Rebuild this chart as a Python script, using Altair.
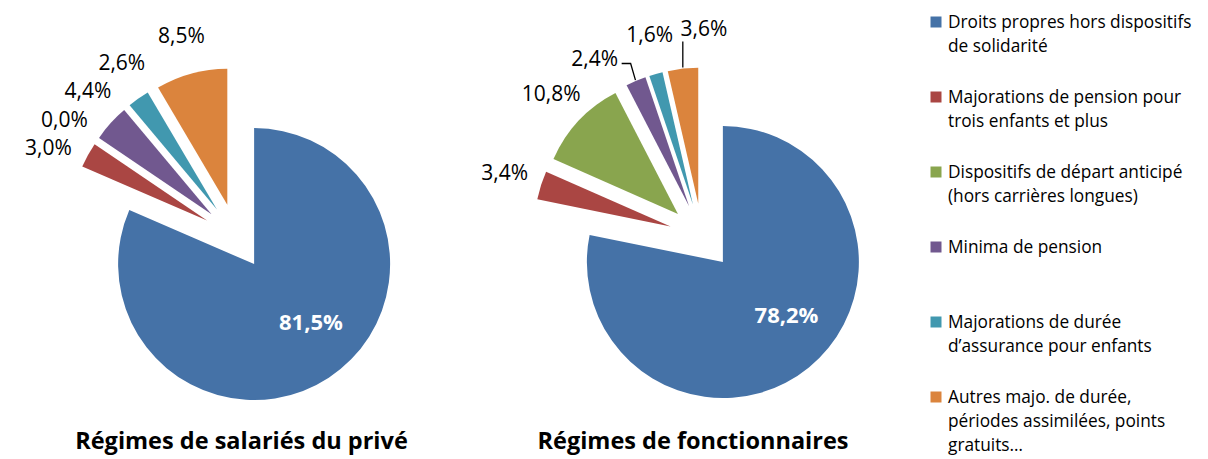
import math
import altair as alt
import pandas as pd

# ---------------- data ----------------
categories = [
    "Droits propres hors dispositifs\nde solidarité",
    "Majorations de pension pour\ntrois enfants et plus",
    "Dispositifs de départ anticipé\n(hors carrières longues)",
    "Minima de pension",
    "Majorations de durée\nd’assurance pour enfants",
    "Autres majo. de durée,\npériodes assimilées, points\ngratuits…",
]
prive = [81.5, 3.0, 0.0, 4.4, 2.6, 8.5]
fonctionnaires = [78.2, 3.4, 10.8, 2.4, 1.6, 3.6]
pie_titles = ["Régimes de salariés du privé", "Régimes de fonctionnaires"]

# ---------------- style / layout ----------------
colors = ["#4572A7", "#AA4643", "#89A54E", "#71588F", "#4198AF", "#DB843D"]
FONT = "Open Sans"
W, H = 1192, 451
centers = [(228, 228.5), (694, 228.5)]
title_x = [233.5, 685]
title_y = 441
R = 136
EXPLODE = 33
LABEL_R = 207
LAB_FS = 21
LEG_X = 928
LEG_Y0, LEG_Y1 = 14, 389


def fmt(v):
    return f"{v:.1f}".replace(".", ",") + "%"


def pdir(deg):
    a = math.radians(deg)
    return math.sin(a), -math.cos(a)


slices, inner, outer, leaders = [], [], [], []
for p, (vals, (cx0, cy0)) in enumerate(zip([prive, fonctionnaires], centers)):
    total = sum(vals)
    cum = 0.0
    items = []
    for i, v in enumerate(vals):
        c0, c1 = cum, cum + v
        cum = c1
        mid = (c0 + c1) / 2 / total * 360.0
        dx, dy = pdir(mid)
        vx, vy = cx0 + EXPLODE * dx, cy0 + EXPLODE * dy
        slices.append(dict(pie=p, cat=categories[i], c0=c0 / total * 100, c1=c1 / total * 100,
                           cx=vx, cy=vy))
        if i == 0:
            inner.append(dict(x=vx + 0.6 * R * dx + 12, y=vy + 0.6 * R * dy - 9, t=fmt(v)))
        else:
            items.append(dict(i=i, mid=mid, ang=mid, t=fmt(v), w=len(fmt(v)) * 12.5 + 2))

    def pos(it):
        dx, dy = pdir(it["ang"])
        return cx0 + LABEL_R * dx, cy0 + LABEL_R * dy

    def overlap(a, b):
        ax, ay = pos(a)
        bx, by = pos(b)
        return abs(ax - bx) < (a["w"] + b["w"]) / 2 + 2 and abs(ay - by) < 28

    items.sort(key=lambda it: it["mid"])
    for _ in range(3000):
        moved = False
        for a, b in zip(items, items[1:]):
            if overlap(a, b):
                a["ang"] -= 0.2
                b["ang"] += 0.2
                moved = True
        if not moved:
            break

    for it in items:
        lx, ly = pos(it)
        outer.append(dict(x=lx, y=ly, t=it["t"]))
        if abs(it["ang"] - it["mid"]) > 4:
            dx, dy = pdir(it["mid"])
            tx = cx0 + (EXPLODE + R + 1) * dx
            ty = cy0 + (EXPLODE + R + 1) * dy
            hw = it["w"] / 2
            lid = f"{p}-{it['i']}"
            if lx - hw < tx < lx + hw and ty > ly:
                pts = [(tx, ly + 12), (tx, ty)]
            else:
                side = 1 if tx > lx else -1
                sx = lx + side * (hw + 1)
                sy = ly + 4
                pts = [(sx, sy), (sx + side * 9, sy), (tx, ty)]
            for k, (px, py) in enumerate(pts):
                leaders.append(dict(id=lid, o=k, x=px, y=py))

slices_df = pd.DataFrame(slices)
inner_df = pd.DataFrame(inner)
outer_df = pd.DataFrame(outer)
leaders_df = pd.DataFrame(leaders)
titles_df = pd.DataFrame(dict(t=pie_titles, x=title_x, y=[title_y] * 2))
n = len(categories)
legend_df = pd.DataFrame(dict(
    cat=categories,
    y=[LEG_Y0 + k * (LEG_Y1 - LEG_Y0) / (n - 1) for k in range(n)],
))

X = lambda f: alt.X(f, scale=None, axis=None)
Y = lambda f: alt.Y(f, scale=None, axis=None)
color = alt.Color("cat:N", scale=alt.Scale(domain=categories, range=colors), legend=None)

arcs = alt.Chart(slices_df).mark_arc(outerRadius=R, stroke=None).encode(
    x=X("cx:Q"), y=Y("cy:Q"),
    theta=alt.Theta("c0:Q", scale=alt.Scale(domain=[0, 100], range=[0, 2 * math.pi])),
    theta2="c1:Q",
    color=color,
)

inner_txt = alt.Chart(inner_df).mark_text(
    font=FONT, fontSize=22, fontWeight="bold", color="white", baseline="middle"
).encode(x=X("x:Q"), y=Y("y:Q"), text="t:N")

outer_txt = alt.Chart(outer_df).mark_text(
    font=FONT, fontSize=LAB_FS, color="black", baseline="middle"
).encode(x=X("x:Q"), y=Y("y:Q"), text="t:N")

lead = alt.Chart(leaders_df).mark_line(color="black", strokeWidth=1.3).encode(
    x=X("x:Q"), y=Y("y:Q"), detail="id:N", order="o:Q"
)

titles = alt.Chart(titles_df).mark_text(
    font=FONT, fontSize=23.5, fontWeight="bold", color="black", baseline="alphabetic"
).encode(x=X("x:Q"), y=Y("y:Q"), text="t:N")

leg_sq = alt.Chart(legend_df).mark_square(size=121, opacity=1).encode(
    x=alt.value(LEG_X), y=Y("y:Q"), color=color
)
leg_txt = alt.Chart(legend_df).mark_text(
    font=FONT, fontSize=17.3, color="black", align="left", baseline="alphabetic",
    dy=6, lineBreak="\n", lineHeight=24,
).encode(x=alt.value(LEG_X + 12), y=Y("y:Q"), text="cat:N")

chart = alt.layer(arcs, inner_txt, lead, outer_txt, titles, leg_sq, leg_txt).properties(
    width=W, height=H, padding=0,
    autosize=alt.AutoSizeParams(type="none"),
).configure_view(stroke=None)

chart.save("out.html", embed_options={"renderer": "svg", "actions": False})
